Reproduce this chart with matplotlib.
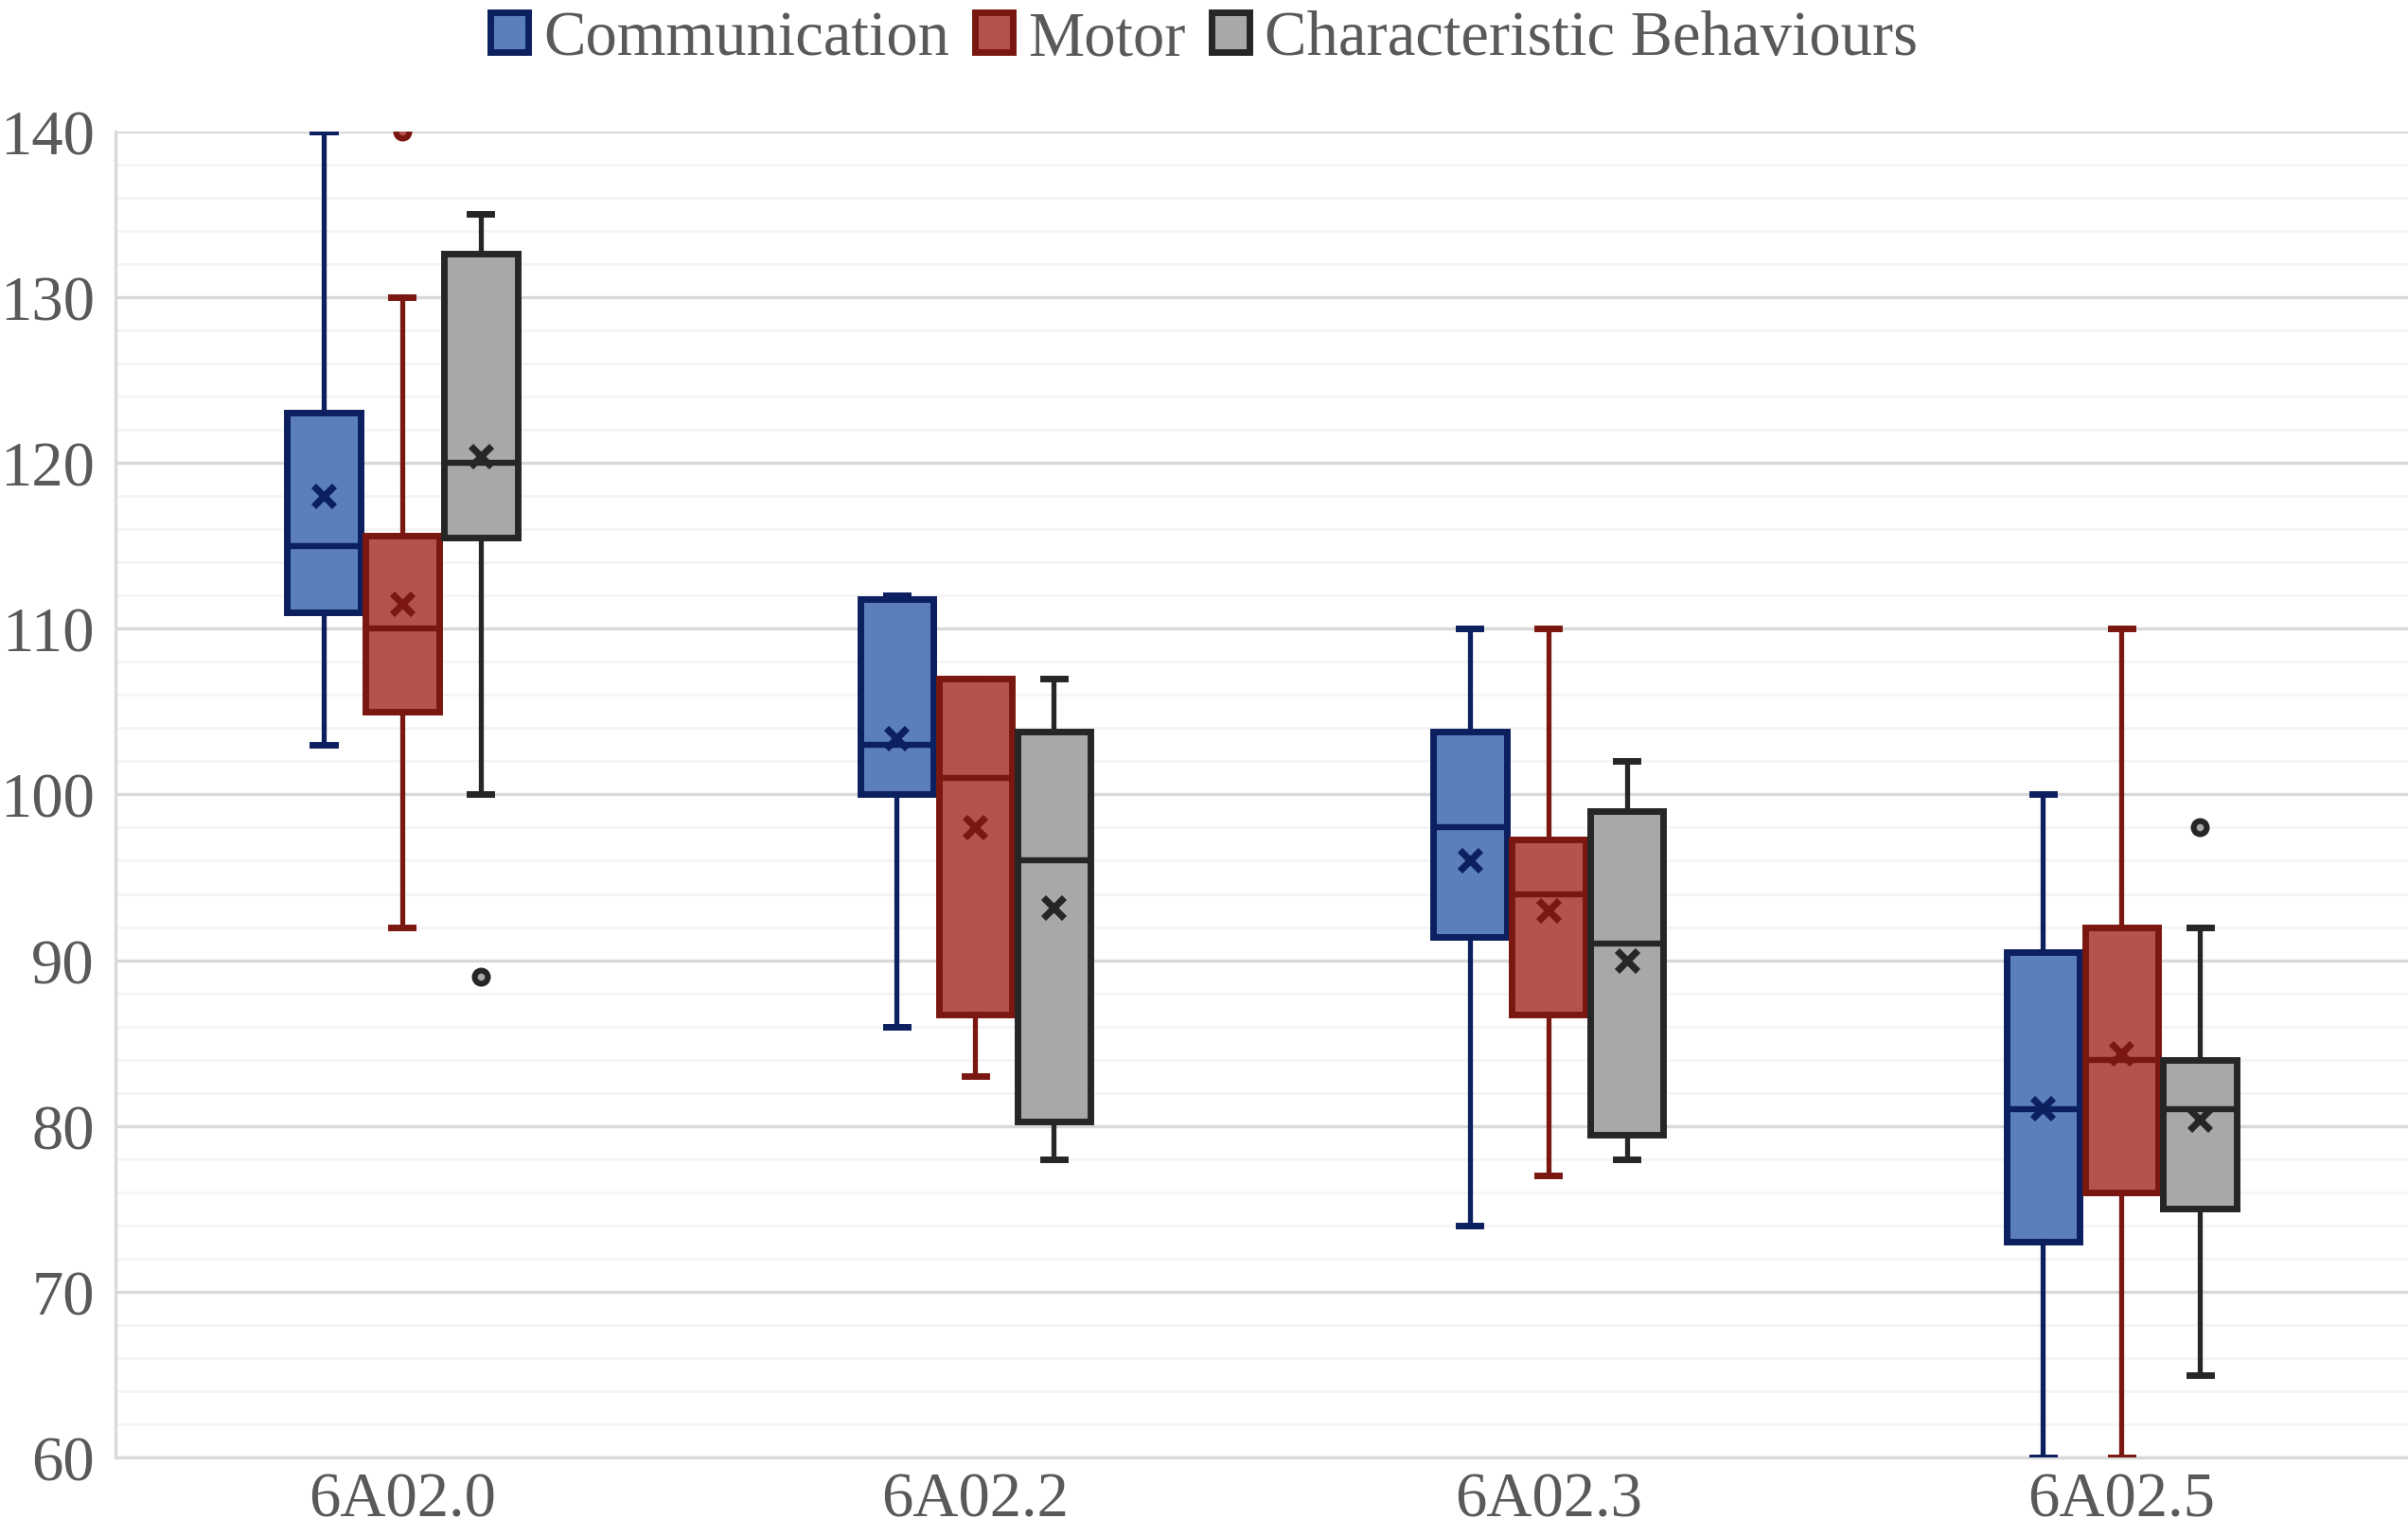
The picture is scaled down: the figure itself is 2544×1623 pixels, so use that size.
import matplotlib
matplotlib.use("Agg")
import matplotlib.pyplot as plt
from matplotlib.patches import Patch

categories = ["6A02.0", "6A02.2", "6A02.3", "6A02.5"]
series = ["Communication", "Motor", "Characteristic Behaviours"]

# box stats, one list per series (per category)
comm_whislo = [103, 86, 74, 60]
comm_q1 = [111, 100, 91.4, 73]
comm_med = [115, 103, 98, 81]
comm_q3 = [123, 111.8, 103.8, 90.5]
comm_whishi = [140, 112, 110, 100]
comm_mean = [118, 103.4, 96, 81.1]
comm_fliers = [[], [], [], []]

motor_whislo = [92, 83, 77, 60]
motor_q1 = [105, 86.7, 86.7, 76]
motor_med = [110, 101, 94, 84]
motor_q3 = [115.6, 107, 97.3, 92]
motor_whishi = [130, 107, 110, 110]
motor_mean = [111.5, 98, 93, 84.4]
motor_fliers = [[140], [], [], []]

char_whislo = [100, 78, 78, 65]
char_q1 = [115.5, 80.3, 79.5, 75]
char_med = [120, 96, 91, 81]
char_q3 = [132.6, 103.8, 99, 84]
char_whishi = [135, 107, 102, 92]
char_mean = [120.4, 93.2, 90, 80.4]
char_fliers = [[89], [], [], [98]]

fills = ["#5a7fbb", "#b4534d", "#a8a8a8"]
edges = ["#0c1f5e", "#7a1710", "#262626"]
txt = "#595959"

plt.rcParams['font.family'] = ['Liberation Serif', 'DejaVu Serif']

fig = plt.figure(figsize=(12.72, 8.12), dpi=200)
ax = fig.add_axes([0.048, 0.051, 0.952, 0.863])

all_stats = [
    (comm_whislo, comm_q1, comm_med, comm_q3, comm_whishi, comm_mean, comm_fliers),
    (motor_whislo, motor_q1, motor_med, motor_q3, motor_whishi, motor_mean, motor_fliers),
    (char_whislo, char_q1, char_med, char_q3, char_whishi, char_mean, char_fliers),
]
offsets = [-0.137, 0.0, 0.137]
width = 0.128

for s, (lo, q1, med, q3, hi, mean, fl) in enumerate(all_stats):
    stats = []
    for i in range(len(categories)):
        stats.append(dict(whislo=lo[i], q1=q1[i], med=med[i], q3=q3[i],
                          whishi=hi[i], mean=mean[i], fliers=fl[i]))
    pos = [i + offsets[s] for i in range(len(categories))]
    ax.bxp(stats, positions=pos, widths=width, patch_artist=True,
           showmeans=True, capwidths=width * 0.3,
           boxprops=dict(facecolor=fills[s], edgecolor=edges[s], linewidth=2.5),
           medianprops=dict(color=edges[s], linewidth=2.3),
           whiskerprops=dict(color=edges[s], linewidth=1.9),
           capprops=dict(color=edges[s], linewidth=2.5),
           meanprops=dict(marker='x', markeredgecolor=edges[s], markersize=8,
                          markeredgewidth=2.6),
           flierprops=dict(marker='o', markerfacecolor=fills[s], markeredgecolor=edges[s],
                           markersize=5, markeredgewidth=2.2),
           zorder=3)

ax.set_xlim(-0.5, len(categories) - 0.5)
ax.set_ylim(60, 140)
ax.set_xticks(range(len(categories)))
ax.set_xticklabels(categories)
ax.set_yticks(range(60, 141, 10))
ax.set_yticks(range(60, 141, 2), minor=True)
ax.tick_params(axis='both', which='both', length=0, labelsize=24, colors=txt)
ax.tick_params(axis='y', pad=8)
ax.tick_params(axis='x', pad=5)
ax.grid(which='major', axis='y', color='#d9d9d9', linewidth=1.2, zorder=0)
ax.grid(which='minor', axis='y', color='#f4f4f4', linewidth=1.0, zorder=0)
for side in ['top', 'right']:
    ax.spines[side].set_visible(False)
for side in ['left', 'bottom']:
    ax.spines[side].set_color('#d9d9d9')
    ax.spines[side].set_linewidth(1.2)

handles = [Patch(facecolor=fills[i], edgecolor=edges[i], linewidth=2.5) for i in range(3)]
leg = fig.legend(handles, series, loc='upper center', bbox_to_anchor=(0.5, 1.03), ncol=3,
                 frameon=False, fontsize=24, handlelength=0.6, handleheight=0.6,
                 handletextpad=0.25, columnspacing=0.4, labelcolor=txt)

fig.savefig("out.png", dpi=200, facecolor='white')
